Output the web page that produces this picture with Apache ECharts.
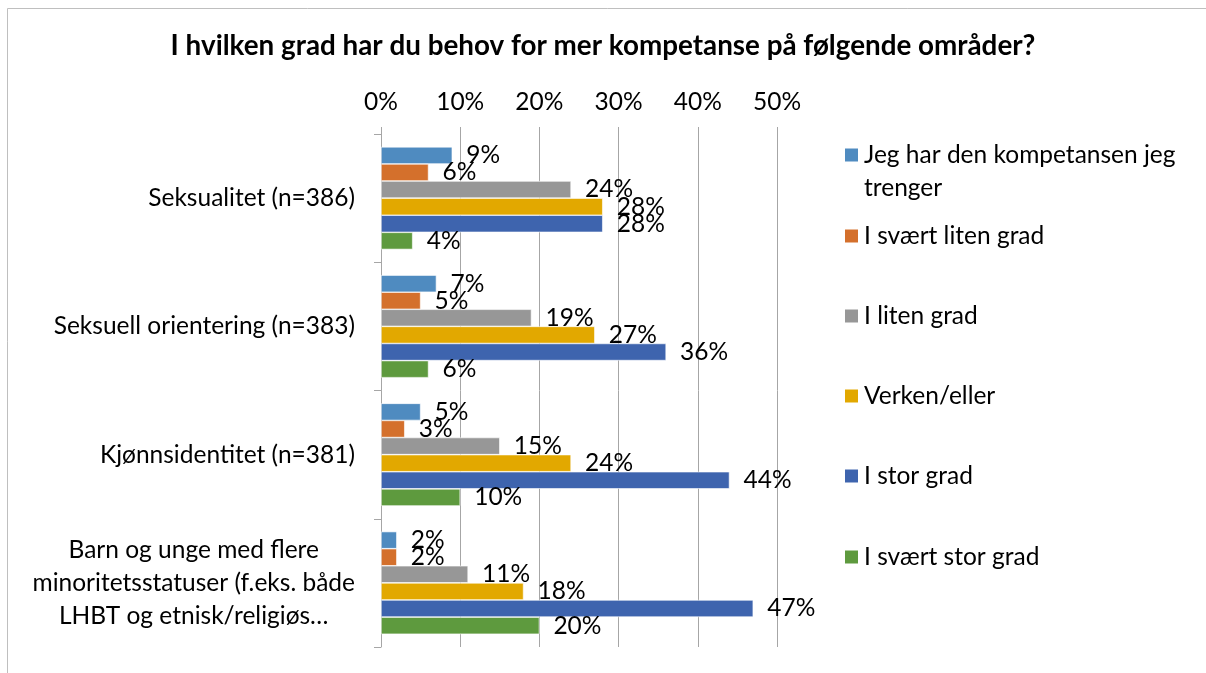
<!DOCTYPE html>
<html>
<head>
<meta charset="utf-8">
<script src="https://cdn.jsdelivr.net/npm/echarts@6/dist/echarts.min.js"></script>
<style>
  html, body { margin: 0; padding: 0; background: #fff; }
  #main { width: 1206px; height: 673px; }
</style>
</head>
<body>
<div id="main"></div>
<script>
// categories (top to bottom)
const categories = [
  'Seksualitet (n=386)',
  'Seksuell orientering (n=383)',
  'Kjønnsidentitet (n=381)',
  'Barn og unge med flere\nminoritetsstatuser (f.eks. både\nLHBT og etnisk/religiøs…'
];
const seriesNames = [
  'Jeg har den kompetansen jeg trenger',
  'I svært liten grad',
  'I liten grad',
  'Verken/eller',
  'I stor grad',
  'I svært stor grad'
];
const seriesColors = ['#4f8bc0', '#d4702c', '#979797', '#e2a800', '#3e64ae', '#5e9a3e'];
// values in percent, one array per series, ordered like categories
const harKompetanse = [9, 7, 5, 2];
const svaertLiten = [6, 5, 3, 2];
const liten = [24, 19, 15, 11];
const verkenEller = [28, 27, 24, 18];
const stor = [28, 36, 44, 47];
const svaertStor = [4, 6, 10, 20];
const seriesValues = [harKompetanse, svaertLiten, liten, verkenEller, stor, svaertStor];

const FONT = 'Lato';
const FS = 24.5;
const gridColor = '#a6a6a6';

const chart = echarts.init(document.getElementById('main'));

// one legend per item so they can sit at Excel's spacing
const legendTops = [105.5, 219.5, 299.5, 379.5, 459.5, 540.5];
const legends = seriesNames.map((name, i) => ({
  data: [name],
  orient: 'vertical',
  left: 843,
  top: legendTops[i],
  padding: 0,
  itemWidth: 15,
  itemHeight: 15,
  itemGap: 0,
  icon: 'rect',
  selectedMode: false,
  formatter: i === 0 ? ' \nJeg har den kompetansen jeg\ntrenger' : '{name}',
  textStyle: { fontFamily: FONT, fontSize: FS, color: '#000', lineHeight: 33 }
}));

const option = {
  animation: false,
  textStyle: { fontFamily: FONT },
  title: {
    text: 'I hvilken grad har du behov for mer kompetanse på følgende områder?',
    left: 'center',
    top: 32,
    padding: 0,
    textStyle: { fontFamily: FONT, fontSize: 27.8, fontWeight: 'bold', color: '#000' }
  },
  graphic: [{
    type: 'rect',
    shape: { x: 7.5, y: 8.5, width: 1400, height: 900 },
    style: { fill: 'none', stroke: '#bfbfbf', lineWidth: 1 },
    silent: true
  }],
  legend: legends,
  grid: { left: 381, right: 429, top: 134, bottom: 26, containLabel: false },
  xAxis: {
    type: 'value',
    position: 'top',
    min: 0,
    max: 50,
    interval: 10,
    axisLine: { show: false },
    axisTick: { show: true, length: 7, lineStyle: { color: gridColor } },
    splitLine: { show: true, lineStyle: { color: gridColor, width: 1 } },
    axisLabel: { formatter: '{value}%', fontFamily: FONT, fontSize: FS, color: '#000', margin: 19 }
  },
  yAxis: {
    type: 'category',
    inverse: true,
    data: categories,
    axisLine: { show: true, lineStyle: { color: gridColor } },
    axisTick: { show: true, length: 7, lineStyle: { color: gridColor } },
    axisLabel: {
      fontFamily: FONT,
      fontSize: FS,
      color: '#000',
      margin: 26,
      lineHeight: 33,
      formatter: v => v.split('\n').map(l => '{c|' + l + '}').join('\n'),
      rich: { c: { align: 'center', fontFamily: FONT, fontSize: FS, color: '#000', lineHeight: 33 } }
    }
  },
  series: seriesNames.map((name, i) => ({
    name: name,
    type: 'bar',
    data: seriesValues[i],
    barGap: '0%',
    barCategoryGap: '20%',
    itemStyle: { color: seriesColors[i], borderColor: '#ffffff', borderWidth: 0.6 },
    label: {
      show: true,
      position: 'right',
      distance: 14,
      formatter: '{c}%',
      fontFamily: FONT,
      fontSize: FS,
      color: '#000'
    }
  }))
};

chart.setOption(option);
</script>
</body>
</html>
